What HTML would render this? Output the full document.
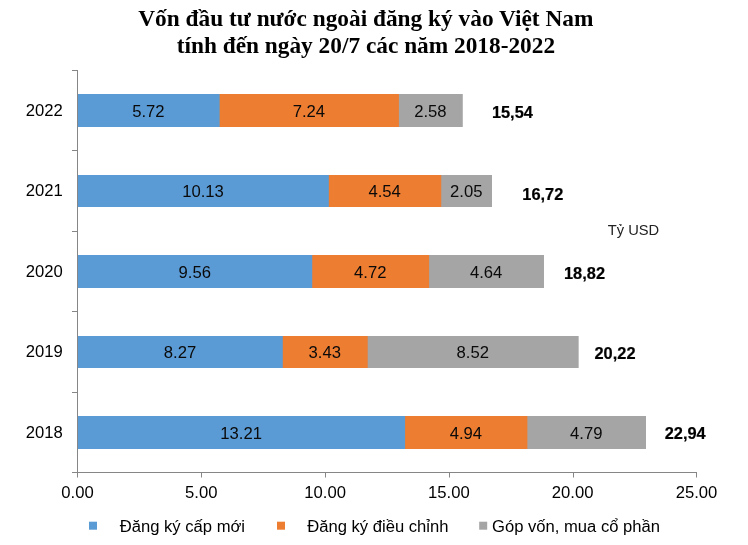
<!DOCTYPE html>
<html><head><meta charset="utf-8"><title>Chart</title>
<style>
html,body{margin:0;padding:0;background:#fff;}
svg{display:block}
.t{font-family:"Liberation Serif",serif;font-weight:bold;font-size:23.33px;fill:#000}
.a{font-family:"Liberation Sans",sans-serif;font-size:16.67px;fill:#000}
.d{font-family:"Liberation Sans",sans-serif;font-size:16.67px;fill:#0a0a0a}
.b{font-family:"Liberation Sans",sans-serif;font-size:16.4px;font-weight:bold;fill:#000;stroke:#000;stroke-width:0.2px}
.u{font-family:"Liberation Sans",sans-serif;font-size:14px;fill:#222}
.l{font-family:"Liberation Sans",sans-serif;font-size:16.62px;fill:#000}
</style></head><body>
<svg width="748" height="545" viewBox="0 0 748 545">
<rect width="748" height="545" fill="#fff"/>
<text class="t" x="365.8" y="26.1" text-anchor="middle">Vốn đầu tư nước ngoài đăng ký vào Việt Nam</text>
<text class="t" x="365.9" y="53.3" text-anchor="middle">tính đến ngày 20/7 các năm 2018-2022</text>

<rect x="78.0" y="94" width="384.77" height="33" fill="#a5a5a5"/>
<rect x="78.0" y="94" width="320.89" height="33" fill="#ed7d31"/>
<rect x="78.0" y="94" width="141.63" height="33" fill="#5b9bd5"/>
<text class="d" x="148.41" y="117.1" text-anchor="middle">5.72</text>
<text class="d" x="308.86" y="117.1" text-anchor="middle">7.24</text>
<text class="d" x="430.43" y="117.1" text-anchor="middle">2.58</text>
<text class="a" x="62.9" y="115.8" text-anchor="end">2022</text>
<text class="b" x="491.9" y="117.9">15,54</text>
<rect x="78.0" y="175" width="413.99" height="32" fill="#a5a5a5"/>
<rect x="78.0" y="175" width="363.23" height="32" fill="#ed7d31"/>
<rect x="78.0" y="175" width="250.82" height="32" fill="#5b9bd5"/>
<text class="d" x="203.01" y="196.8" text-anchor="middle">10.13</text>
<text class="d" x="384.62" y="196.8" text-anchor="middle">4.54</text>
<text class="d" x="466.21" y="196.8" text-anchor="middle">2.05</text>
<text class="a" x="62.9" y="195.8" text-anchor="end">2021</text>
<text class="b" x="522.3" y="199.5">16,72</text>
<rect x="78.0" y="255" width="465.98" height="33" fill="#a5a5a5"/>
<rect x="78.0" y="255" width="351.10" height="33" fill="#ed7d31"/>
<rect x="78.0" y="255" width="234.23" height="33" fill="#5b9bd5"/>
<text class="d" x="194.71" y="277.7" text-anchor="middle">9.56</text>
<text class="d" x="370.26" y="277.7" text-anchor="middle">4.72</text>
<text class="d" x="486.14" y="277.7" text-anchor="middle">4.64</text>
<text class="a" x="62.9" y="276.9" text-anchor="end">2020</text>
<text class="b" x="564.0" y="278.9">18,82</text>
<rect x="78.0" y="336" width="500.65" height="32" fill="#a5a5a5"/>
<rect x="78.0" y="336" width="289.69" height="32" fill="#ed7d31"/>
<rect x="78.0" y="336" width="204.77" height="32" fill="#5b9bd5"/>
<text class="d" x="179.98" y="357.8" text-anchor="middle">8.27</text>
<text class="d" x="324.83" y="357.8" text-anchor="middle">3.43</text>
<text class="d" x="472.77" y="357.8" text-anchor="middle">8.52</text>
<text class="a" x="62.9" y="357.0" text-anchor="end">2019</text>
<text class="b" x="594.5" y="358.9">20,22</text>
<rect x="78.0" y="416" width="567.99" height="33" fill="#a5a5a5"/>
<rect x="78.0" y="416" width="449.39" height="33" fill="#ed7d31"/>
<rect x="78.0" y="416" width="327.08" height="33" fill="#5b9bd5"/>
<text class="d" x="241.14" y="438.6" text-anchor="middle">13.21</text>
<text class="d" x="465.84" y="438.6" text-anchor="middle">4.94</text>
<text class="d" x="586.29" y="438.6" text-anchor="middle">4.79</text>
<text class="a" x="62.9" y="437.9" text-anchor="end">2018</text>
<text class="b" x="664.7" y="438.9">22,94</text>
<rect x="77" y="70" width="1" height="407.5" fill="#868686"/>
<rect x="72" y="472" width="625" height="1" fill="#868686"/>
<rect x="72" y="70" width="5" height="1" fill="#868686"/>
<rect x="72" y="150" width="5" height="1" fill="#868686"/>
<rect x="72" y="231" width="5" height="1" fill="#868686"/>
<rect x="72" y="311" width="5" height="1" fill="#868686"/>
<rect x="72" y="392" width="5" height="1" fill="#868686"/>
<text class="a" x="77.50" y="497.9" text-anchor="middle">0.00</text>
<rect x="201" y="472" width="1" height="5.5" fill="#868686"/>
<text class="a" x="201.30" y="497.9" text-anchor="middle">5.00</text>
<rect x="325" y="472" width="1" height="5.5" fill="#868686"/>
<text class="a" x="325.10" y="497.9" text-anchor="middle">10.00</text>
<rect x="449" y="472" width="1" height="5.5" fill="#868686"/>
<text class="a" x="448.90" y="497.9" text-anchor="middle">15.00</text>
<rect x="573" y="472" width="1" height="5.5" fill="#868686"/>
<text class="a" x="572.70" y="497.9" text-anchor="middle">20.00</text>
<rect x="696" y="472" width="1" height="5.5" fill="#868686"/>
<text class="a" x="696.50" y="497.9" text-anchor="middle">25.00</text>
<text class="u" x="607.8" y="235.3" textLength="51.4" lengthAdjust="spacingAndGlyphs">Tỷ USD</text>
<rect x="89" y="521.7" width="8" height="8" fill="#5b9bd5"/><text class="l" x="119.7" y="531.7">Đăng ký cấp mới</text>
<rect x="277" y="521.7" width="8" height="8" fill="#ed7d31"/><text class="l" x="307.2" y="531.7">Đăng ký điều chỉnh</text>
<rect x="479.2" y="521.7" width="8" height="8" fill="#a5a5a5"/><text class="l" x="492.0" y="531.7">Góp vốn, mua cổ phần</text>
</svg></body></html>
